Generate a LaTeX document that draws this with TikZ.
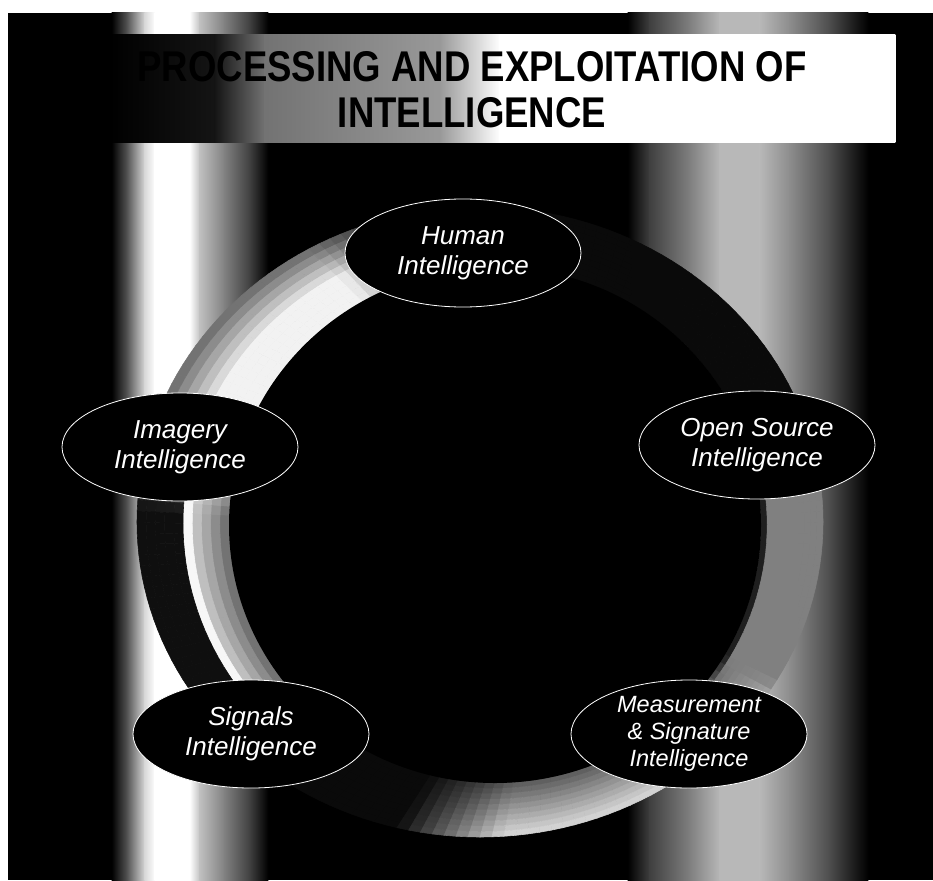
\documentclass[tikz,border=0pt]{standalone}
\usepackage{fontspec}
\setmainfont{Liberation Sans}
\usetikzlibrary{shapes.geometric}
\begin{document}
\begin{tikzpicture}[x=1pt,y=-1pt,
  cellnode/.style={ellipse, fill=black, draw=white, line width=0.8pt,
    minimum width=236pt, minimum height=108pt, inner sep=0pt,
    text=white, align=center, font=\itshape\fontsize{26}{30}\selectfont},
  titletext/.style={anchor=base, text=black, inner sep=0pt,
    font=\bfseries\fontsize{43}{48}\selectfont}]
\useasboundingbox (0,0) rectangle (933,880);
% paper and dark slide
\fill[white] (0,0) rectangle (933,880);
\fill[black] (8,13) rectangle (933,880);
% left light column
\foreach \xa/\pa/\xb/\pb in {112/100/128/65, 128/65/145/15, 145/15/155/0,
    155/0/190/0, 190/0/200/25, 200/25/225/50, 225/50/250/75, 250/75/268/100}
  \shade[left color=black!\pa, right color=black!\pb] (\xa-0.3,13) rectangle (\xb+0.3,880);
% right light column
\foreach \xa/\pa/\xb/\pb in {628/100/650/75, 650/75/690/50, 690/50/720/28,
    720/28/760/28, 760/28/790/45, 790/45/830/70, 830/70/868/100}
  \shade[left color=black!\pa, right color=black!\pb] (\xa-0.3,13) rectangle (\xb+0.3,880);
% title band, fading into the dark on the left
\foreach \xa/\pa/\xb/\pb in {110/100/215/92, 215/92/265/55, 265/55/440/40,
    440/40/500/0, 500/0/895/0}
  \shade[left color=black!\pa, right color=black!\pb] (\xa-0.3,35) rectangle (\xb+0.3,142);
% the lit ring, built from small patches (angle x radial step)
\foreach \ang in {0,2,...,358}{
  \pgfmathsetmacro\ringT{\ang+1}
  \pgfmathsetmacro\ringTw{\ringT<180 ? \ringT+360 : \ringT}
  \pgfmathsetmacro\wUL{max(0,min(1,(\ringT-98)/22,(178-\ringT)/16))}
  \pgfmathsetmacro\wLF{max(0,min(1,(\ringT-162)/16,(236-\ringT)/14))}
  \pgfmathsetmacro\wBT{max(0,min(1,(\ringT-256)/18,(330-\ringT)/8))}
  \pgfmathsetmacro\wRT{max(0,min(1,(\ringTw-322)/8,(382-\ringTw)/12))}
  \pgfmathsetmacro\cA{cos(\ang)}\pgfmathsetmacro\sA{sin(\ang)}
  \pgfmathsetmacro\cB{cos(\ang+2)}\pgfmathsetmacro\sB{sin(\ang+2)}
  \foreach \kk in {0,...,9}{
    \pgfmathsetmacro\sLo{\kk/10}\pgfmathsetmacro\sHi{(\kk+1)/10}
    \pgfmathsetmacro\sMid{(\kk+0.5)/10}
    \pgfmathsetmacro\pUL{min(0.95,0.95-1.0*(\sMid-0.45))}
    \pgfmathsetmacro\pLF{\sMid<0.4 ? 0.4+1.0*\sMid : (\sMid<0.5 ? 0.97 : 0.06)}
    \pgfmathsetmacro\pBT{0.35+0.5*\sMid}
    \pgfmathsetmacro\pRT{\sMid<0.1 ? 0.12 : 0.5}
    \pgfmathsetmacro\shadeP{100*(1-(0.04+\wUL*(\pUL-0.04)+\wLF*(\pLF-0.04)+\wBT*(\pBT-0.04)+\wRT*(\pRT-0.04)))}
    \filldraw[fill=black!\shadeP, draw=black!\shadeP, line width=0.6pt]
      ({495+266*\cA+\sLo*(-15+77*\cA)},{525-258*\sA+\sLo*(-3-57*\sA)}) --
      ({495+266*\cA+\sHi*(-15+77*\cA)},{525-258*\sA+\sHi*(-3-57*\sA)}) --
      ({495+266*\cB+\sHi*(-15+77*\cB)},{525-258*\sB+\sHi*(-3-57*\sB)}) --
      ({495+266*\cB+\sLo*(-15+77*\cB)},{525-258*\sB+\sLo*(-3-57*\sB)}) -- cycle;
  }
}
% dark centre of the ring
\fill[black] (495,525) ellipse [x radius=266pt, y radius=258pt];
% title
\node[titletext] (titleA) at (472,82) {\scalebox{0.85}[1]{PROCESSING AND EXPLOITATION OF}};
\node[titletext] (titleB) at (472,127) {\scalebox{0.85}[1]{INTELLIGENCE}};
% intelligence disciplines
\node[cellnode] (humint) at (463,253) {Human\\Intelligence};
\node[cellnode] (imint) at (180,447) {Imagery\\Intelligence};
\node[cellnode] (osint) at (757,445) {Open Source\\Intelligence};
\node[cellnode] (sigint) at (251,734) {Signals\\Intelligence};
\node[cellnode, font=\itshape\fontsize{23.5}{27}\selectfont] (masint) at (689,734)
  {Measurement\\\& Signature\\Intelligence};
\end{tikzpicture}
\end{document}
